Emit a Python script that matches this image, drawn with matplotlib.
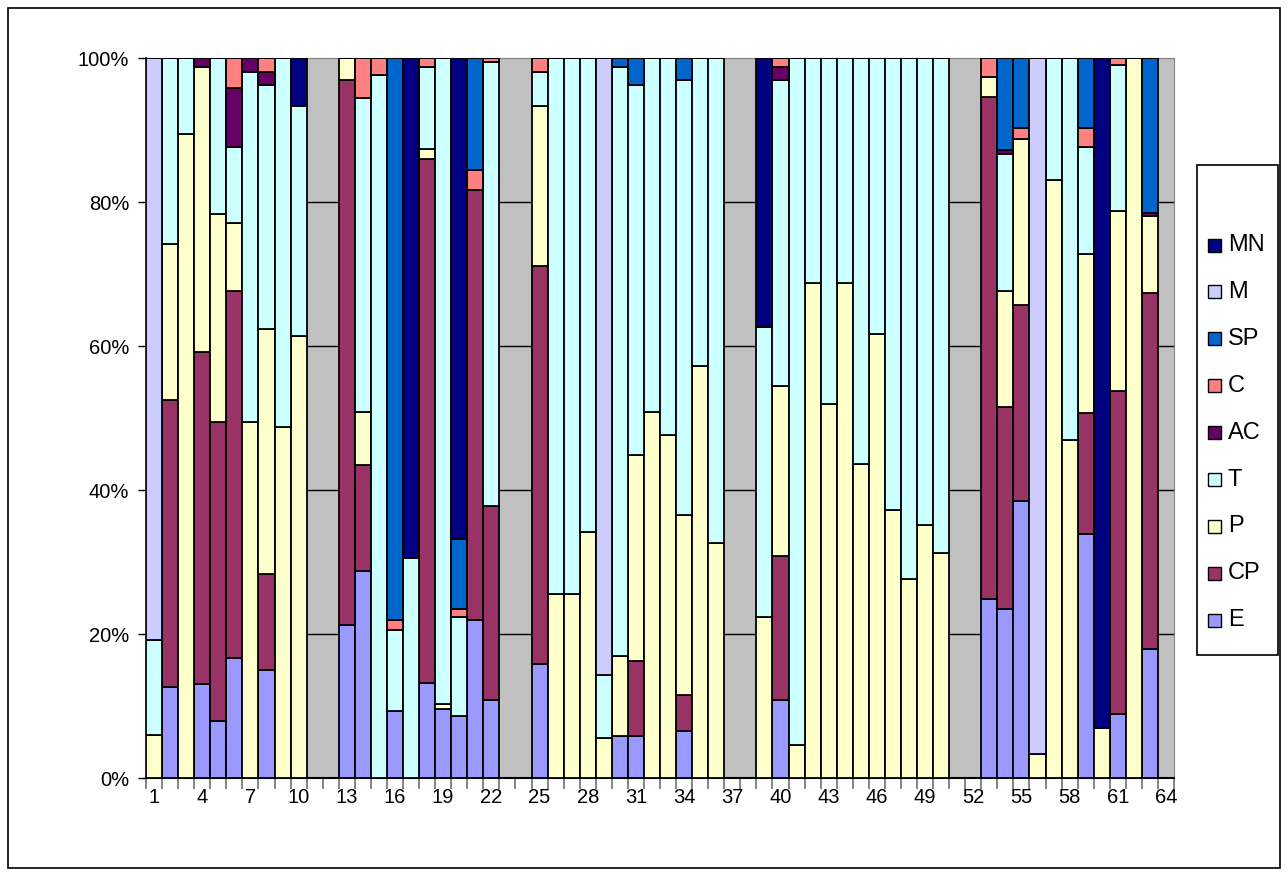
import numpy as np
import matplotlib.pyplot as plt
from matplotlib.patches import Rectangle

plt.rcParams["font.family"] = ["Liberation Sans", "DejaVu Sans"]

# category labels 1..64 (every third one shown on the axis)
categories = list(range(1, 65))
tick_labels = [1, 4, 7, 10, 13, 16, 19, 22, 25, 28, 31, 34, 37, 40, 43, 46, 49, 52, 55, 58, 61, 64]

# series values (percent of each bar), stack order bottom -> top
# rows: bars 1-12, 13-24, 25-38, 39-52, 53-64
E = [0, 12.6, 0, 13.0, 7.9, 16.6, 0, 15.0, 0, 0, 0, 0,
     21.2, 28.8, 0, 9.3, 0, 13.2, 9.6, 8.6, 21.9, 10.9, 0, 0,
     15.9, 0, 0, 0, 0, 5.9, 5.9, 0, 0, 6.5, 0, 0, 0, 0,
     0, 10.9, 0, 0, 0, 0, 0, 0, 0, 0, 0, 0, 0, 0,
     24.9, 23.5, 38.5, 0, 0, 0, 33.85, 0, 8.85, 0, 17.9, 0]
CP = [0, 39.9, 0, 46.1, 41.5, 51.1, 0, 13.3, 0, 0, 0, 0,
      75.8, 14.7, 0, 0, 0, 72.8, 0, 0, 59.7, 26.9, 0, 0,
      55.2, 0, 0, 0, 0, 0, 10.35, 0, 0, 5.0, 0, 0, 0, 0,
      0, 19.9, 0, 0, 0, 0, 0, 0, 0, 0, 0, 0, 0, 0,
      69.7, 28.0, 27.15, 0, 0, 0, 16.9, 0, 44.9, 0, 49.5, 0]
P = [6.0, 21.6, 89.4, 39.6, 29.0, 9.4, 49.4, 34.1, 48.8, 61.4, 0, 0,
     3.0, 7.3, 0, 0, 0, 1.4, 0.7, 0, 0, 0, 0, 0,
     22.3, 25.5, 25.5, 34.2, 5.6, 11.0, 28.55, 50.8, 47.6, 25.0, 57.2, 32.6, 0, 0,
     22.3, 23.7, 4.6, 68.75, 51.9, 68.75, 43.6, 61.7, 37.2, 27.6, 35.2, 31.2, 0, 0,
     2.8, 16.2, 23.05, 3.3, 83.0, 47.0, 22.0, 6.9, 25.0, 100, 10.6, 0]
T = [13.2, 25.9, 10.6, 0, 21.6, 10.5, 48.7, 33.9, 51.2, 32.0, 0, 0,
     0, 43.6, 97.7, 11.3, 30.5, 11.35, 89.7, 13.7, 0, 61.6, 0, 0,
     4.7, 74.5, 74.5, 65.8, 8.7, 81.85, 51.5, 49.2, 52.4, 60.4, 42.8, 67.4, 0, 0,
     40.4, 42.4, 95.4, 31.25, 48.1, 31.25, 56.4, 38.3, 62.8, 72.4, 64.8, 68.8, 0, 0,
     0, 18.9, 0, 0, 17.0, 53.0, 14.9, 0, 20.3, 0, 0, 0]
AC = [0, 0, 0, 1.3, 0, 8.2, 1.9, 1.8, 0, 0, 0, 0,
      0, 0, 0, 0, 0, 0, 0, 0, 0, 0, 0, 0,
      0, 0, 0, 0, 0, 0, 0, 0, 0, 0, 0, 0, 0, 0,
      0, 1.85, 0, 0, 0, 0, 0, 0, 0, 0, 0, 0, 0, 0,
      0, 0.6, 0, 0, 0, 0, 0, 0, 0, 0, 0.5, 0]
C = [0, 0, 0, 0, 0, 4.2, 0, 1.9, 0, 0, 0, 0,
     0, 5.6, 2.3, 1.3, 0, 1.25, 0, 1.2, 2.9, 0.6, 0, 0,
     1.9, 0, 0, 0, 0, 0, 0, 0, 0, 0, 0, 0, 0, 0,
     0, 1.25, 0, 0, 0, 0, 0, 0, 0, 0, 0, 0, 0, 0,
     2.6, 0, 1.6, 0, 0, 0, 2.7, 0, 1.0, 0, 0, 0]
SP = [0, 0, 0, 0, 0, 0, 0, 0, 0, 0, 0, 0,
      0, 0, 0, 78.1, 0, 0, 0, 9.7, 15.5, 0, 0, 0,
      0, 0, 0, 0, 0, 1.25, 3.7, 0, 0, 3.1, 0, 0, 0, 0,
      0, 0, 0, 0, 0, 0, 0, 0, 0, 0, 0, 0, 0, 0,
      0, 12.8, 9.7, 0, 0, 0, 9.7, 0, 0, 0, 21.5, 0]
M = [80.8, 0, 0, 0, 0, 0, 0, 0, 0, 0, 0, 0,
     0, 0, 0, 0, 0, 0, 0, 0, 0, 0, 0, 0,
     0, 0, 0, 0, 85.7, 0, 0, 0, 0, 0, 0, 0, 0, 0,
     0, 0, 0, 0, 0, 0, 0, 0, 0, 0, 0, 0, 0, 0,
     0, 0, 0, 96.7, 0, 0, 0, 0, 0, 0, 0, 0]
MN = [0, 0, 0, 0, 0, 0, 0, 0, 0, 6.6, 0, 0,
      0, 0, 0, 0, 69.5, 0, 0, 66.8, 0, 0, 0, 0,
      0, 0, 0, 0, 0, 0, 0, 0, 0, 0, 0, 0, 0, 0,
      37.3, 0, 0, 0, 0, 0, 0, 0, 0, 0, 0, 0, 0, 0,
      0, 0, 0, 0, 0, 0, 0, 93.1, 0, 0, 0, 0]

series_names = ["E", "CP", "P", "T", "AC", "C", "SP", "M", "MN"]
series_values = [E, CP, P, T, AC, C, SP, M, MN]
series_colors = ["#9999FF", "#993366", "#FFFFCC", "#CCFFFF", "#660066",
                 "#FF8080", "#0066CC", "#CCCCFF", "#000080"]

data = np.array(series_values, dtype=float)
totals = data.sum(axis=0)
shares = np.divide(data * 100, totals, out=np.zeros_like(data), where=totals > 0)

W, H = 1288, 872
fig = plt.figure(figsize=(W / 100, H / 100), dpi=100)
ax = fig.add_axes([146 / W, 1 - 778 / H, 1028 / W, 720 / H])
ax.set_facecolor("#C0C0C0")

x = np.array(categories)
bottom = np.zeros(len(categories))
for name, vals, color in zip(series_names, shares, series_colors):
    ax.bar(x, vals, width=1.0, bottom=bottom, color=color,
           edgecolor="black", linewidth=1.3, label=name, zorder=3)
    bottom += vals

ax.set_xlim(0.5, 64.5)
ax.set_ylim(0, 100)

# gridlines
for yv in [20, 40, 60, 80]:
    ax.axhline(yv, color="black", linewidth=1.0, zorder=1)

ax.set_yticks([0, 20, 40, 60, 80, 100])
ax.set_yticklabels(["0%", "20%", "40%", "60%", "80%", "100%"], fontsize=14.5)
ax.tick_params(axis="y", direction="out", length=6, width=1, color="black", pad=6)

# tick marks on category boundaries, labels at category centres
ax.set_xticks(np.arange(0.5, 65.5, 1.0))
ax.set_xticklabels([])
ax.tick_params(axis="x", which="major", direction="out", length=8, width=1.2, color="#707070")
ax.set_xticks(tick_labels, minor=True)
ax.set_xticklabels([str(t) for t in tick_labels], minor=True, fontsize=14.5)
ax.tick_params(axis="x", which="minor", length=0, pad=7)

ax.spines["left"].set_color("black")
ax.spines["bottom"].set_color("black")
ax.spines["left"].set_linewidth(1.2)
ax.spines["bottom"].set_linewidth(1.5)
ax.spines["top"].set_color("#808080")
ax.spines["right"].set_color("#808080")

# legend drawn by hand (Excel-like: box on the right, MN at top)
fig.patches.append(Rectangle((1197 / W, 1 - 655 / H), 81 / W, 490 / H,
                             transform=fig.transFigure, facecolor="white",
                             edgecolor="black", linewidth=1.2))
entry_top, entry_step = 245, 46.9
for i, (name, color) in enumerate(zip(series_names[::-1], series_colors[::-1])):
    yc = entry_top + i * entry_step
    fig.patches.append(Rectangle((1208 / W, 1 - (yc + 6.5) / H), 13 / W, 13 / H,
                                 transform=fig.transFigure, facecolor=color,
                                 edgecolor="black", linewidth=1.0))
    fig.text(1228 / W, 1 - yc / H, name, fontsize=17, va="center", ha="left")

# chart area border
fig.patches.append(Rectangle((8 / W, 4 / H), 1272 / W, 860 / H,
                             transform=fig.transFigure, fill=False,
                             edgecolor="black", linewidth=1.2))

fig.savefig("out.png", dpi=100)
